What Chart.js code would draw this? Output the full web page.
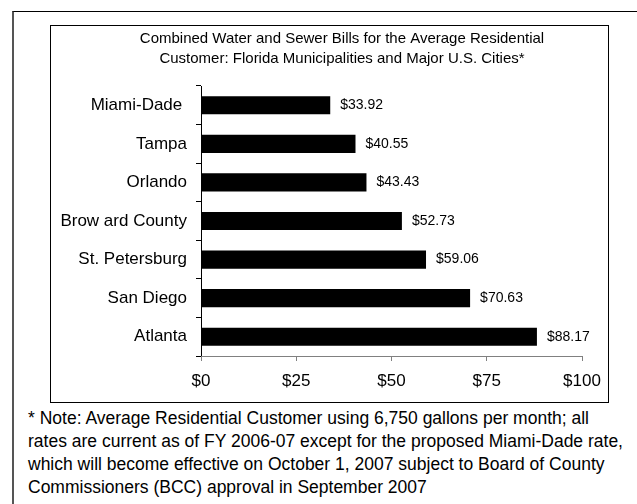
<!DOCTYPE html>
<html>
<head>
<meta charset="utf-8">
<script src="https://cdn.jsdelivr.net/npm/chart.js@4/dist/chart.umd.min.js"></script>
<style>
  html, body { margin: 0; padding: 0; background: #fff; }
  body { width: 637px; height: 504px; position: relative; overflow: hidden;
         font-family: "Liberation Sans", Arial, sans-serif; }
  #outer { position: absolute; left: 12px; top: 11px; width: 700px; height: 600px;
           border-left: 2px solid #555; border-top: 1px solid #000; box-sizing: border-box; }
  #inner { position: absolute; left: 50px; top: 25px; width: 559px; height: 378px;
           border: 1px solid #000; box-sizing: border-box; }
  #chart { position: absolute; left: 51px; top: 26px; }
  #note { position: absolute; left: 28px; top: 407px; width: 609px; white-space: nowrap;
          font-size: 17.5px; line-height: 23px; color: #000; }
</style>
</head>
<body>
<div id="outer"></div>
<div id="inner"></div>
<canvas id="chart" width="582" height="376"></canvas>
<div id="note">* Note: Average Residential Customer using 6,750 gallons per month; all<br>rates are current as of FY 2006-07 except for the proposed Miami-Dade rate,<br>which will become effective on October 1, 2007 subject to Board of County<br>Commissioners (BCC) approval in September 2007</div>
<script>
const titleLines = [
  "Combined Water and Sewer Bills for the Average Residential",
  "Customer: Florida Municipalities and Major U.S. Cities*"
];
const categories = ["Miami-Dade ", "Tampa", "Orlando", "Brow ard County", "St. Petersburg", "San Diego", "Atlanta"];
const bills = [33.92, 40.55, 43.43, 52.73, 59.06, 70.63, 88.17];
const xTicks = [0, 25, 50, 75, 100];

const FONT = '"Liberation Sans", Arial, sans-serif';

const valueLabels = {
  id: 'valueLabels',
  afterDatasetsDraw(chart) {
    const ctx = chart.ctx;
    const meta = chart.getDatasetMeta(0);
    ctx.save();
    ctx.font = '14px ' + FONT;
    ctx.fillStyle = '#000';
    ctx.textAlign = 'left';
    ctx.textBaseline = 'middle';
    meta.data.forEach((bar, i) => {
      ctx.fillText('$' + bills[i].toFixed(2), bar.x + 10, bar.y);
    });
    ctx.restore();
  }
};

new Chart(document.getElementById('chart'), {
  type: 'bar',
  data: {
    labels: categories,
    datasets: [{
      data: bills,
      backgroundColor: '#000',
      borderWidth: 0,
      categoryPercentage: 1,
      barPercentage: 0.47
    }]
  },
  options: {
    indexAxis: 'y',
    responsive: false,
    animation: false,
    layout: { padding: 0 },
    plugins: {
      legend: { display: false },
      tooltip: { enabled: false },
      title: {
        display: true,
        text: titleLines,
        color: '#000',
        font: { family: FONT, size: 15, weight: 'normal', lineHeight: '20px' },
        padding: { top: 3, bottom: 17 }
      }
    },
    scales: {
      y: {
        type: 'category',
        position: 'left',
        grid: { display: true, drawOnChartArea: false, tickLength: 5, color: '#000', offset: true },
        border: { color: '#000', width: 1 },
        ticks: { color: '#000', font: { family: FONT, size: 17 }, padding: 9 },
        afterFit(scale) { scale.width = 150; }
      },
      yRight: {
        type: 'category',
        position: 'right',
        display: true,
        labels: categories,
        grid: { display: false },
        border: { display: false },
        ticks: { display: false },
        afterFit(scale) { scale.width = 51; }
      },
      x: {
        type: 'linear',
        min: xTicks[0],
        max: xTicks[xTicks.length - 1],
        afterBuildTicks(scale) { scale.ticks = xTicks.map(v => ({ value: v })); },
        grid: { display: true, drawOnChartArea: false, tickLength: 5, color: '#808080' },
        border: { color: '#808080', width: 1 },
        ticks: { color: '#000', font: { family: FONT, size: 17 }, padding: 10,
                 callback: v => '$' + v },
        afterFit(scale) { scale.height = 46; }
      }
    }
  },
  plugins: [valueLabels]
});
</script>
</body>
</html>
